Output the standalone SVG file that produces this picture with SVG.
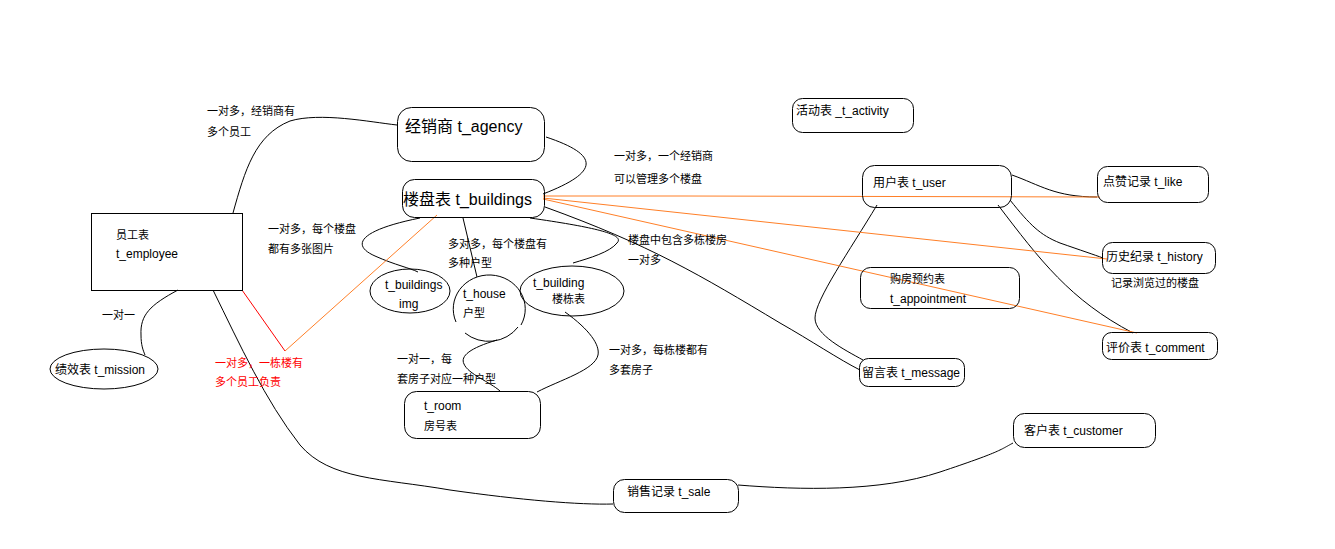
<svg xmlns="http://www.w3.org/2000/svg" width="1335" height="549" viewBox="0 0 1335 549">
<style>
text{font-family:"Liberation Sans","Noto Sans CJK SC",sans-serif;font-size:12px;fill:#000}
.cj{font-size:11px}
.big{font-size:16px}
.red{fill:#ff0000}
.box{fill:none;stroke:#000;stroke-width:1}
.ln{fill:none;stroke:#000;stroke-width:1}
.or{fill:none;stroke:#ff7f27;stroke-width:1}
.rd{fill:none;stroke:#ff0000;stroke-width:1}
</style>
<rect width="1335" height="549" fill="#fff"/>

<g id="connectors">
  <path class="ln" d="M233,213 C245,170 255,135 290,121 C320,112 370,122 397,125"/>
  <path class="ln" d="M546,137 C600,155 600,172 543,194"/>
  <path class="ln" d="M420,218 C360,230 350,245 375,256 C395,265 410,268 418,272"/>
  <path class="ln" d="M463,218 L477,277"/>
  <path class="ln" d="M530,218 C600,228 625,235 617,243 C610,252 590,258 573,263"/>
  <path class="ln" d="M545,207 C650,245 700,275 780,323 C810,340 840,360 860,370"/>
  <path class="ln" d="M497,340 C470,348 460,356 464,364 C468,374 490,382 500,391"/>
  <path class="ln" d="M565,312 C590,330 600,345 598,355 C595,370 560,380 537,392"/>
  <path class="ln" d="M178,290 C150,305 140,315 141,335 C141,345 143,350 145,355"/>
  <path class="ln" d="M213,290 C240,345 265,400 300,445 C330,480 380,478 450,490 C520,500 580,505 613,504"/>
  <path class="ln" d="M738,485 C800,490 880,492 940,472 S1000,450 1013,443"/>
  <path class="ln" d="M1012,175 C1040,185 1055,197 1097,197"/>
  <path class="ln" d="M1010,200 C1030,225 1040,235 1060,243 C1080,250 1095,255 1103,258"/>
  <path class="ln" d="M998,205 C1040,260 1070,300 1133,333"/>
  <path class="ln" d="M877,205 C850,250 815,300 815,318 C815,335 845,350 863,360"/>
  <path class="or" d="M543,196 L683,196 L1100,197"/>
  <path class="or" d="M543,198 L1107,259"/>
  <path class="or" d="M543,199 L1137,333"/>
  <path class="or" d="M437,215 L285,351"/>
  <path class="rd" d="M242,290 L285,351"/>
</g>

<g id="employee">
  <rect class="box" x="91.5" y="213.5" width="151" height="77"/>
  <text x="116" y="239" class="cj">员工表</text>
  <text x="116" y="258">t_employee</text>
</g>
<g id="agency">
  <rect class="box" x="397.5" y="107.5" width="147" height="54" rx="14"/>
  <text x="405" y="132" class="big">经销商 t_agency</text>
</g>
<g id="buildings">
  <rect class="box" x="402.5" y="179.5" width="142" height="38" rx="12"/>
  <text x="403" y="205" class="big">楼盘表 t_buildings</text>
</g>
<g id="buildings_img">
  <ellipse class="box" cx="410" cy="291" rx="40" ry="22"/>
  <text x="385" y="289">t_buildings</text>
  <text x="399" y="308">img</text>
</g>
<g id="house">
  <path class="box" d="M456,322 A36,34 0 1 1 521,325 M518,327 A36,34 0 0 1 465,333"/>
  <text x="463" y="298">t_house</text>
  <text x="463" y="317" class="cj">户型</text>
</g>
<g id="building">
  <ellipse class="box" cx="572" cy="291" rx="52" ry="25"/>
  <text x="533" y="287">t_building</text>
  <text x="552" y="303" class="cj">楼栋表</text>
</g>
<g id="room">
  <rect class="box" x="404.5" y="391.5" width="136" height="47" rx="12"/>
  <text x="424" y="410">t_room</text>
  <text x="424" y="430" class="cj">房号表</text>
</g>
<g id="mission">
  <ellipse class="box" cx="104" cy="369" rx="54" ry="20"/>
  <text x="55" y="374">绩效表 t_mission</text>
</g>
<g id="activity">
  <rect class="box" x="792.5" y="98.5" width="121" height="34" rx="10"/>
  <text x="796" y="115">活动表 _t_activity</text>
</g>
<g id="user">
  <rect class="box" x="862.5" y="165.5" width="149" height="42" rx="12"/>
  <text x="873" y="187">用户表 t_user</text>
</g>
<g id="appointment">
  <rect class="box" x="860.5" y="267.5" width="159" height="41" rx="10"/>
  <text x="890" y="283" class="cj">购房预约表</text>
  <text x="890" y="303">t_appointment</text>
</g>
<g id="message">
  <rect class="box" x="859.5" y="358.5" width="105" height="28" rx="9"/>
  <text x="862" y="377">留言表 t_message</text>
</g>
<g id="like">
  <rect class="box" x="1097.5" y="166.5" width="111" height="36" rx="10"/>
  <text x="1103" y="186">点赞记录 t_like</text>
</g>
<g id="history">
  <rect class="box" x="1102.5" y="242.5" width="113" height="31" rx="10"/>
  <text x="1106" y="261">历史纪录 t_history</text>
</g>
<g id="comment">
  <rect class="box" x="1102.5" y="332.5" width="115" height="27" rx="9"/>
  <text x="1106" y="352">评价表 t_comment</text>
</g>
<g id="customer">
  <rect class="box" x="1013.5" y="413.5" width="142" height="34" rx="11"/>
  <text x="1024" y="435">客户表 t_customer</text>
</g>
<g id="sale">
  <rect class="box" x="613.5" y="479.5" width="125" height="33" rx="11"/>
  <text x="627" y="496">销售记录 t_sale</text>
</g>

<g id="labels">
  <text x="207" y="115" class="cj">一对多，经销商有</text>
  <text x="207" y="136" class="cj">多个员工</text>
  <text x="268" y="233" class="cj">一对多，每个楼盘</text>
  <text x="268" y="253" class="cj">都有多张图片</text>
  <text x="448" y="248" class="cj">多对多，每个楼盘有</text>
  <text x="448" y="267" class="cj">多种户型</text>
  <text x="614" y="160" class="cj">一对多，一个经销商</text>
  <text x="614" y="183" class="cj">可以管理多个楼盘</text>
  <text x="628" y="244" class="cj">楼盘中包含多栋楼房</text>
  <text x="628" y="264" class="cj">一对多</text>
  <text x="397" y="363" class="cj">一对一，每</text>
  <text x="397" y="383" class="cj">套房子对应一种户型</text>
  <text x="609" y="354" class="cj">一对多，每栋楼都有</text>
  <text x="609" y="374" class="cj">多套房子</text>
  <text x="102" y="319" class="cj">一对一</text>
  <text x="215" y="367" class="cj red">一对多，一栋楼有</text>
  <text x="215" y="386" class="cj red">多个员工负责</text>
  <text x="1111" y="287" class="cj">记录浏览过的楼盘</text>
</g>
</svg>
